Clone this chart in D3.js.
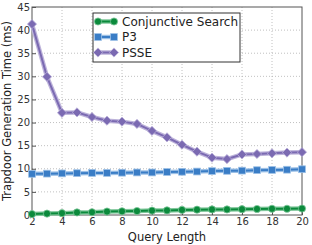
<!DOCTYPE html>
<html>
<head>
<meta charset="utf-8">
<script src="https://cdn.jsdelivr.net/npm/d3@7"></script>
<style>
  body { margin: 0; background: #fff; }
  text { font-family: "DejaVu Sans", sans-serif; }
</style>
</head>
<body>
<div id="chart"></div>
<script>
// data
const queryLengths = [2, 3, 4, 5, 6, 7, 8, 9, 10, 11, 12, 13, 14, 15, 16, 17, 18, 19, 20]
const conjunctive = [0.2, 0.3, 0.4, 0.55, 0.6, 0.75, 0.8, 0.85, 0.95, 1.0, 1.1, 1.15, 1.2, 1.2, 1.25, 1.3, 1.35, 1.35, 1.4]
const p3 = [8.9, 8.95, 9.0, 9.05, 9.1, 9.1, 9.15, 9.2, 9.2, 9.3, 9.35, 9.4, 9.5, 9.55, 9.6, 9.7, 9.75, 9.8, 9.9]
const psse = [41.3, 29.9, 22.1, 22.2, 21.2, 20.4, 20.2, 19.7, 18.2, 16.8, 15.2, 13.7, 12.4, 12.1, 13.1, 13.2, 13.35, 13.5, 13.6]
const xTicks = [2, 4, 6, 8, 10, 12, 14, 16, 18, 20]
const yTicks = [0, 5, 10, 15, 20, 25, 30, 35, 40, 45]

const seriesList = [
  {name: "Conjunctive Search", values: conjunctive, color: "#0b8a3c", halo: "#7fc79a", marker: "circle"},
  {name: "P3", values: p3, color: "#3a7dc6", halo: "#9cc0e6", marker: "square"},
  {name: "PSSE", values: psse, color: "#7b6ab2", halo: "#bdb3da", marker: "diamond"}
]

const W = 312, H = 245
const margin = {top: 7, right: 10, bottom: 30, left: 32}

const svg = d3.select("#chart").append("svg")
  .attr("width", W)
  .attr("height", H)

const x = d3.scaleLinear().domain([2, 20]).range([margin.left, W - margin.right])
const y = d3.scaleLinear().domain([0, 45]).range([H - margin.bottom, margin.top])

// grid
svg.append("g").selectAll("line")
  .data(xTicks.slice(1, -1))
  .enter().append("line")
    .attr("x1", d => x(d)).attr("x2", d => x(d))
    .attr("y1", y(0)).attr("y2", y(45))
    .attr("stroke", "#b0b0b0").attr("stroke-width", 0.8)
    .attr("stroke-dasharray", "1,2")
svg.append("g").selectAll("line")
  .data(yTicks.slice(1, -1))
  .enter().append("line")
    .attr("y1", d => y(d)).attr("y2", d => y(d))
    .attr("x1", x(2)).attr("x2", x(20))
    .attr("stroke", "#b0b0b0").attr("stroke-width", 0.8)
    .attr("stroke-dasharray", "1,2")

// axes
svg.append("g")
  .attr("transform", "translate(0," + y(0) + ")")
  .call(d3.axisBottom(x).tickValues(xTicks).tickSize(-4).tickPadding(3))
svg.append("g")
  .attr("transform", "translate(" + x(2) + ",0)")
  .call(d3.axisLeft(y).tickValues(yTicks).tickSize(-4).tickPadding(2))
svg.selectAll(".domain").remove()
svg.selectAll(".tick line").attr("stroke", "#555")
svg.selectAll(".tick text")
  .attr("fill", "#333")
  .style("font-size", "10px")
  .style("font-family", "DejaVu Sans")

// frame
svg.append("rect")
  .attr("x", x(2)).attr("y", y(45))
  .attr("width", x(20) - x(2)).attr("height", y(0) - y(45))
  .attr("fill", "none").attr("stroke", "#555").attr("stroke-width", 1)

const line = d3.line()
  .x((d, i) => x(queryLengths[i]))
  .y(d => y(d))

function drawMarker(g, type, cx, cy, color, halo) {
  let m
  if (type === "circle") {
    m = g.append("circle").attr("cx", cx).attr("cy", cy).attr("r", 3.6)
  } else if (type === "square") {
    m = g.append("rect").attr("x", cx - 3.4).attr("y", cy - 3.4).attr("width", 6.8).attr("height", 6.8)
  } else {
    const s = 4.6
    m = g.append("path").attr("d", `M${cx},${cy - s}L${cx + s},${cy}L${cx},${cy + s}L${cx - s},${cy}Z`)
  }
  m.attr("fill", color).attr("stroke", halo).attr("stroke-width", 0.8)
}

seriesList.forEach(s => {
  const g = svg.append("g")
  g.append("path").datum(s.values)
    .attr("d", line).attr("fill", "none")
    .attr("stroke", s.halo).attr("stroke-width", 4.5).attr("stroke-linejoin", "round")
  g.append("path").datum(s.values)
    .attr("d", line).attr("fill", "none")
    .attr("stroke", s.color).attr("stroke-width", 2).attr("stroke-linejoin", "round")
  s.values.forEach((v, i) => drawMarker(g, s.marker, x(queryLengths[i]), y(v), s.color, s.halo))
})

// legend
const legend = svg.append("g").attr("transform", "translate(93,13)")
legend.append("rect")
  .attr("width", 147).attr("height", 49)
  .attr("fill", "#fff").attr("stroke", "#333").attr("stroke-width", 1)
seriesList.forEach((s, i) => {
  const ly = 8.5 + i * 15.5
  legend.append("line")
    .attr("x1", 5).attr("x2", 21).attr("y1", ly).attr("y2", ly)
    .attr("stroke", s.halo).attr("stroke-width", 4.5)
  legend.append("line")
    .attr("x1", 5).attr("x2", 21).attr("y1", ly).attr("y2", ly)
    .attr("stroke", s.color).attr("stroke-width", 2)
  drawMarker(legend, s.marker, 5, ly, s.color, s.halo)
  drawMarker(legend, s.marker, 21, ly, s.color, s.halo)
  legend.append("text")
    .attr("x", 29).attr("y", ly + 4.3)
    .attr("fill", "#222")
    .style("font-size", "12px")
    .text(s.name)
})

// axis labels
svg.append("text")
  .attr("x", (x(2) + x(20)) / 2).attr("y", H - 4)
  .attr("text-anchor", "middle")
  .attr("fill", "#222")
  .style("font-size", "11.5px")
  .text("Query Length")
svg.append("text")
  .attr("transform", "translate(11," + ((y(0) + y(45)) / 2) + ") rotate(-90)")
  .attr("text-anchor", "middle")
  .attr("fill", "#222")
  .style("font-size", "11.5px")
  .text("Trapdoor Generation Time (ms)")
</script>
</body>
</html>
